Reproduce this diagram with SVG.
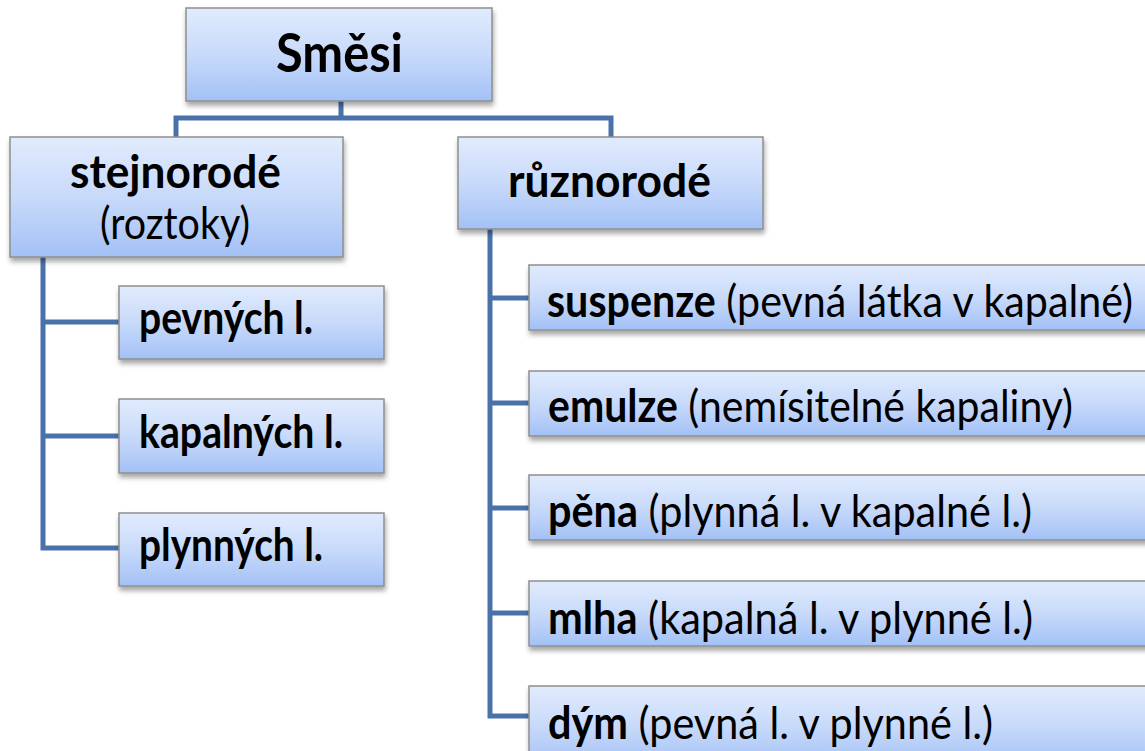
<svg xmlns="http://www.w3.org/2000/svg" width="1145" height="751" viewBox="0 0 1145 751">
<defs>
<linearGradient id="g" x1="0" y1="0" x2="0" y2="1">
<stop offset="0" stop-color="#e1ebfd"/>
<stop offset="0.5" stop-color="#c8dafa"/>
<stop offset="1" stop-color="#a3c1f6"/>
</linearGradient>
<filter id="sh" x="-5%" y="-10%" width="115%" height="140%">
<feDropShadow dx="1" dy="4" stdDeviation="2.5" flood-color="#000" flood-opacity="0.35"/>
</filter>
<style>
.box{fill:url(#g);stroke:#8e8e8e;stroke-width:1.5;filter:url(#sh)}
.c{fill:none;stroke:#4a72aa;stroke-width:5;stroke-linejoin:miter}
text{font-family:Lato,"Liberation Sans",sans-serif;fill:#000}
.b{font-weight:bold}
.r{font-weight:normal}
.t1{font-size:54px}
.t2{font-size:45px}
</style>
</defs>
<rect width="1145" height="751" fill="#fff"/>
<g id="connectors">
<path class="c" d="M341 101 V118 M176 137 V118 H611 V137"/>
<path class="c" d="M43 257 V548 H119 M43 322 H119 M43 436 H119"/>
<path class="c" d="M490 229 V716 H529 M490 298 H529 M490 403 H529 M490 508 H529 M490 613 H529"/>
</g>
<g id="smesi">
<rect class="box" x="186" y="8" width="306" height="93"/>
<text class="b t1" x="276" y="72" textLength="127" lengthAdjust="spacingAndGlyphs">Směsi</text>
</g>
<g id="stejnorode">
<rect class="box" x="10" y="137" width="333" height="120"/>
<text class="b t2" x="70" y="188" textLength="211" lengthAdjust="spacingAndGlyphs">stejnorodé</text>
<text class="r t2" x="100" y="239" textLength="150" lengthAdjust="spacingAndGlyphs">(roztoky)</text>
</g>
<g id="ruznorode">
<rect class="box" x="458" y="137" width="305" height="92"/>
<text class="b t2" x="508" y="197" textLength="203" lengthAdjust="spacingAndGlyphs">různorodé</text>
</g>
<g id="pevnych">
<rect class="box" x="119" y="286" width="265" height="73"/>
<text class="b t2" x="139" y="334" textLength="174" lengthAdjust="spacingAndGlyphs">pevných l.</text>
</g>
<g id="kapalnych">
<rect class="box" x="119" y="399" width="265" height="74"/>
<text class="b t2" x="139" y="448" textLength="204" lengthAdjust="spacingAndGlyphs">kapalných l.</text>
</g>
<g id="plynnych">
<rect class="box" x="119" y="513" width="265" height="73"/>
<text class="b t2" x="139" y="561" textLength="184" lengthAdjust="spacingAndGlyphs">plynných l.</text>
</g>
<g id="suspenze">
<rect class="box" x="529" y="265" width="640" height="65"/>
<text class="t2" x="547" y="317" textLength="586" lengthAdjust="spacingAndGlyphs"><tspan class="b">suspenze</tspan><tspan class="r"> (pevná látka v kapalné)</tspan></text>
</g>
<g id="emulze">
<rect class="box" x="529" y="371" width="640" height="65"/>
<text class="t2" x="548" y="422" textLength="525" lengthAdjust="spacingAndGlyphs"><tspan class="b">emulze</tspan><tspan class="r"> (nemísitelné kapaliny)</tspan></text>
</g>
<g id="pena">
<rect class="box" x="529" y="475" width="640" height="65"/>
<text class="t2" x="548" y="527" textLength="484" lengthAdjust="spacingAndGlyphs"><tspan class="b">pěna</tspan><tspan class="r"> (plynná l. v kapalné l.)</tspan></text>
</g>
<g id="mlha">
<rect class="box" x="529" y="581" width="640" height="65"/>
<text class="t2" x="548" y="634" textLength="485" lengthAdjust="spacingAndGlyphs"><tspan class="b">mlha</tspan><tspan class="r"> (kapalná l. v plynné l.)</tspan></text>
</g>
<g id="dym">
<rect class="box" x="529" y="686" width="640" height="80"/>
<text class="t2" x="548" y="739" textLength="445" lengthAdjust="spacingAndGlyphs"><tspan class="b">dým</tspan><tspan class="r"> (pevná l. v plynné l.)</tspan></text>
</g>
</svg>
